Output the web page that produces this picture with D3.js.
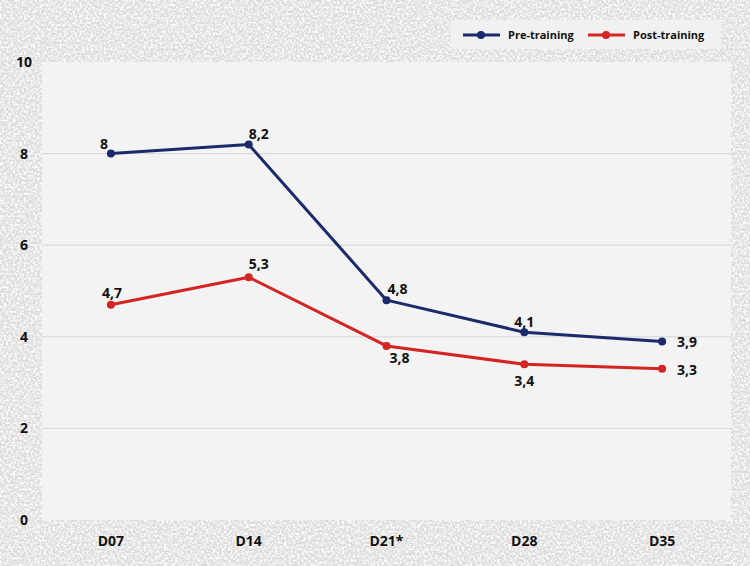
<!DOCTYPE html>
<html>
<head>
<meta charset="utf-8">
<script src="https://cdn.jsdelivr.net/npm/d3@7"></script>
<style>
  html, body { margin: 0; padding: 0; background: #e4e4e4; }
  svg { display: block; font-family: "Open Sans", "Liberation Sans", Arial, sans-serif; }
</style>
</head>
<body>
<div id="chart"></div>
<script>
// data
const days = ["D07", "D14", "D21*", "D28", "D35"];
const preTraining = [8, 8.2, 4.8, 4.1, 3.9];
const postTraining = [4.7, 5.3, 3.8, 3.4, 3.3];
const yTicks = [0, 2, 4, 6, 8, 10];
const seriesNames = ["Pre-training", "Post-training"];
// label placement for each point: [dx, dy]
const preLabelPos = [[-7, -10], [10, -10], [11, -11], [0, -10], [25, 1]];
const postLabelPos = [[1, -12], [10, -13], [13, 12], [0, 17], [25, 1]];

const width = 750, height = 566;
const margin = { top: 62, right: 19, bottom: 46, left: 42 };
const colors = ["#1b2a6b", "#d42424"];

const svg = d3.select("#chart").append("svg")
  .attr("width", width)
  .attr("height", height);

// textured background
const defs = svg.append("defs");
const f = defs.append("filter").attr("id", "noise")
  .attr("x", 0).attr("y", 0).attr("width", "100%").attr("height", "100%");
f.append("feTurbulence")
  .attr("type", "fractalNoise")
  .attr("baseFrequency", 0.45)
  .attr("numOctaves", 3)
  .attr("seed", 7)
  .attr("result", "t");
f.append("feColorMatrix")
  .attr("in", "t")
  .attr("type", "matrix")
  .attr("values", "0 0 0 0 1  0 0 0 0 1  0 0 0 0 1  3 0 0 0 -1.2")
  .attr("result", "spots");
f.append("feFlood").attr("flood-color", "#dcdcdc").attr("result", "base");
f.append("feComposite").attr("in", "spots").attr("in2", "base").attr("operator", "over");

svg.append("rect")
  .attr("width", width).attr("height", height)
  .attr("fill", "#e0e0e0")
  .attr("filter", "url(#noise)");

const x = d3.scaleBand()
  .domain(days)
  .range([margin.left, width - margin.right]);

const y = d3.scaleLinear()
  .domain([0, 10])
  .range([height - margin.bottom, margin.top]);

// plot area
svg.append("rect")
  .attr("x", margin.left)
  .attr("y", margin.top)
  .attr("width", width - margin.left - margin.right)
  .attr("height", height - margin.top - margin.bottom)
  .attr("fill", "#f3f3f3");

// gridlines
svg.append("g")
  .selectAll("line")
  .data(yTicks.filter(d => d > 0 && d < 10))
  .enter()
  .append("line")
  .attr("x1", margin.left)
  .attr("x2", width - margin.right)
  .attr("y1", d => y(d))
  .attr("y2", d => y(d))
  .attr("stroke", "#d6d6d6")
  .attr("stroke-width", 1);

// y axis labels
svg.append("g")
  .selectAll("text")
  .data(yTicks)
  .enter()
  .append("text")
  .attr("x", 24)
  .attr("y", d => y(d))
  .attr("dy", "0.35em")
  .attr("text-anchor", "middle")
  .style("font-size", "14px")
  .style("font-weight", "bold")
  .attr("fill", "#111")
  .text(d => d);

// x axis labels
svg.append("g")
  .selectAll("text")
  .data(days)
  .enter()
  .append("text")
  .attr("x", d => x(d) + x.bandwidth() / 2)
  .attr("y", height - margin.bottom + 21)
  .attr("dy", "0.35em")
  .attr("text-anchor", "middle")
  .style("font-size", "14px")
  .style("font-weight", "bold")
  .attr("fill", "#111")
  .text(d => d);

const cx = d => x(d) + x.bandwidth() / 2;
const line = d3.line()
  .x(d => cx(d.day))
  .y(d => y(d.value));

const fmt = v => String(v).replace(".", ",");

const series = [
  { name: seriesNames[0], values: preTraining, pos: preLabelPos, color: colors[0] },
  { name: seriesNames[1], values: postTraining, pos: postLabelPos, color: colors[1] }
];

series.forEach(s => {
  const pts = days.map((day, i) => ({ day, value: s.values[i], pos: s.pos[i] }));
  const g = svg.append("g");

  g.append("path")
    .datum(pts)
    .attr("d", line)
    .attr("fill", "none")
    .attr("stroke", s.color)
    .attr("stroke-width", 3)
    .attr("stroke-linejoin", "round");

  g.selectAll("circle")
    .data(pts)
    .enter()
    .append("circle")
    .attr("cx", d => cx(d.day))
    .attr("cy", d => y(d.value))
    .attr("r", 4)
    .attr("fill", s.color);

  g.selectAll("text")
    .data(pts)
    .enter()
    .append("text")
    .attr("x", d => cx(d.day) + d.pos[0])
    .attr("y", d => y(d.value) + d.pos[1])
    .attr("dy", "0.35em")
    .attr("text-anchor", "middle")
    .style("font-size", "14px")
    .style("font-weight", "bold")
    .attr("fill", "#111")
    .text(d => fmt(d.value));
});

// legend
const legend = svg.append("g");
legend.append("rect")
  .attr("x", 451).attr("y", 20)
  .attr("width", 270).attr("height", 29)
  .attr("fill", "#f1f1f1");

const legendX = [463, 588];
series.forEach((s, i) => {
  const lg = legend.append("g").attr("transform", `translate(${legendX[i]}, 35)`);
  lg.append("line")
    .attr("x1", 0).attr("x2", 37)
    .attr("stroke", s.color)
    .attr("stroke-width", 3);
  lg.append("circle")
    .attr("cx", 18).attr("r", 4)
    .attr("fill", s.color);
  lg.append("text")
    .attr("x", 45)
    .attr("dy", "0.35em")
    .style("font-size", "11px")
    .style("font-weight", "bold")
    .attr("fill", "#111")
    .text(s.name);
});
</script>
</body>
</html>
